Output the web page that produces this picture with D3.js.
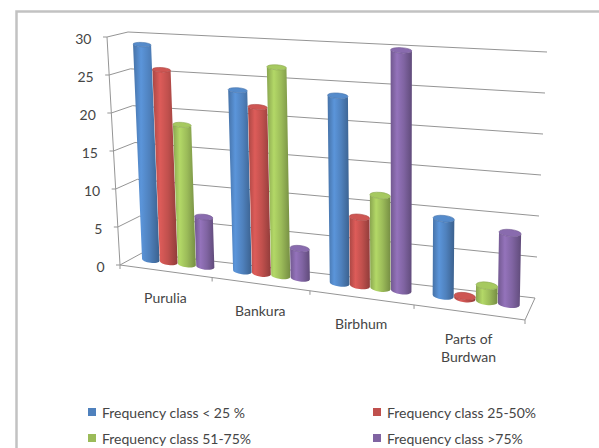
<!DOCTYPE html>
<html>
<head>
<meta charset="utf-8">
<script src="https://cdn.jsdelivr.net/npm/d3@7"></script>
<style>
  body { margin: 0; background: #fff; }
  text { font-family: Lato, "Open Sans", sans-serif; fill: #454545; }
</style>
</head>
<body>
<svg id="chart" width="599" height="448"></svg>
<script>
// ---- data ----
const categories = ["Purulia", "Bankura", "Birbhum", "Parts of Burdwan"];
const seriesNames = ["Frequency class < 25 %", "Frequency class 25-50%", "Frequency class 51-75%", "Frequency class >75%"];
const classBelow25 = [28.7, 23.5, 23.7, 9.5];
const class25to50 = [25.5, 21.5, 8.6, 0.3];
const class51to75 = [18.4, 26.8, 11.6, 1.9];
const classAbove75 = [6.5, 3.8, 29.9, 8.6];
const yTicks = [0, 5, 10, 15, 20, 25, 30];
const seriesColors = ["#4F81BD", "#C0504D", "#9BBB59", "#8064A2"];

const seriesValues = [classBelow25, class25to50, class51to75, classAbove75];

// ---- 3D box (screen corners of the plot cube) ----
const box = {
  front: { bl: [120, 265], br: [525, 320], tl: [107, 37], tr: [537, 66] },
  back:  { bl: [142, 253], br: [535, 298], tl: [128, 32], tr: [547, 52] }
};
const vanish = [400, 6400];          // vertical vanishing point used for the columns
const perspRatio = 1.132;
const uPersp = u => u / (u + perspRatio * (1 - u));
const vScale = d3.scaleLinear().domain([0, 30]).range([0, 1]);
const lerp = (a, b, t) => [a[0] + (b[0] - a[0]) * t, a[1] + (b[1] - a[1]) * t];
const lerp1 = (a, b, t) => a + (b - a) * t;
const dist = (a, b) => Math.hypot(b[0] - a[0], b[1] - a[1]);

// u: along categories (0..1), v: value, w: depth (0 front .. 1 back)
function project(u, v, w) {
  const f = uPersp(u), t = vScale(v);
  const c = k => lerp(box.front[k], box.back[k], w);
  const bot = lerp(c("bl"), c("br"), f);
  const top = lerp(c("tl"), c("tr"), f);
  return lerp(bot, top, t);
}
// point on a column: floor position, then rise toward the vertical vanishing direction
function columnPoint(u, v, w) {
  const f = uPersp(u), t = vScale(v);
  const B = lerp(lerp(box.front.bl, box.back.bl, w), lerp(box.front.br, box.back.br, w), f);
  const hF = lerp1(dist(box.front.bl, box.front.tl), dist(box.front.br, box.front.tr), f);
  const hB = lerp1(dist(box.back.bl, box.back.tl), dist(box.back.br, box.back.tr), f);
  const h = lerp1(hF, hB, w);
  const dx = B[0] - vanish[0], dy = B[1] - vanish[1], len = Math.hypot(dx, dy);
  return [B[0] + dx / len * h * t, B[1] + dy / len * h * t];
}

const x0 = d3.scaleBand().domain(categories).range([0, 1]);
const x1 = d3.scaleBand().domain(d3.range(seriesNames.length))
  .range([0, x0.bandwidth()]).paddingInner(0.02).paddingOuter(0.5);

const svg = d3.select("#chart");

// outer frame
svg.append("rect").attr("x", 16.5).attr("y", 11.5).attr("width", 620).attr("height", 460)
  .attr("fill", "none").attr("stroke", "#c2c2c2").attr("stroke-width", 2.5);

// gradients for cylinder bodies
const defs = svg.append("defs");
seriesColors.forEach((c, i) => {
  const g = defs.append("linearGradient").attr("id", "cyl" + i)
    .attr("x1", 0).attr("x2", 1).attr("y1", 0).attr("y2", 0);
  const base = d3.color(c);
  [[0, base.darker(0.35)], [0.3, base.brighter(0.4)], [0.62, base], [1, base.darker(0.8)]]
    .forEach(([o, col]) => g.append("stop").attr("offset", o).attr("stop-color", col.formatHex()));
});

const gridColor = "#959595";
const line = (a, b) => svg.append("line")
  .attr("x1", a[0]).attr("y1", a[1]).attr("x2", b[0]).attr("y2", b[1])
  .attr("stroke", gridColor).attr("stroke-width", 1);

// walls: gridlines on side wall and back wall
yTicks.forEach(v => {
  line(project(0, v, 0), project(0, v, 1));
  line(project(0, v, 1), project(1, v, 1));
});
// floor edges
line(project(0, 0, 0), project(1, 0, 0));
line(project(1, 0, 0), project(1, 0, 1));
// value axis
line(project(0, 0, 0), project(0, 30, 0));
yTicks.forEach(v => {
  const p = project(0, v, 0);
  line([p[0] - 4, p[1]], p);
  svg.append("text").attr("x", p[0] - 15.5).attr("y", p[1] + 1)
    .attr("text-anchor", "end").attr("dominant-baseline", "central")
    .attr("font-size", 14).text(v);
});
// category axis ticks
d3.range(categories.length + 1).forEach(i => {
  const p = project(i / categories.length, 0, 0);
  line(p, [p[0], p[1] + 4]);
});
// category labels
categories.forEach(c => {
  const p = project(x0(c) + x0.bandwidth() / 2, 0, 0);
  const words = c === "Parts of Burdwan" ? ["Parts of", "Burdwan"] : [c];
  const t = svg.append("text").attr("text-anchor", "middle").attr("font-size", 14);
  words.forEach((wd, k) => t.append("tspan").attr("x", p[0]).attr("y", p[1] + 26 + k * 18)
    .attr("dominant-baseline", "central").text(wd));
});

// cylinders
const depth = 0.6;
function ellipseAt(uc, v, L, R) {
  const dy = project(uc, v, 0)[1] - project(uc, v, 1)[1];
  return {
    cx: (L[0] + R[0]) / 2, cy: (L[1] + R[1]) / 2,
    rx: dist(L, R) / 2,
    ry: 1.6 + 0.1 * dy,
    ang: Math.atan2(R[1] - L[1], R[0] - L[0]) * 180 / Math.PI
  };
}
const bars = [];
categories.forEach((c, ci) => {
  seriesValues.forEach((vals, si) => {
    bars.push({ c, ci, si, v: vals[ci] });
  });
});
const barG = svg.append("g");
bars.forEach(b => {
  const u0 = x0(b.c) + x1(b.si), u1 = u0 + x1.bandwidth(), uc = (u0 + u1) / 2;
  const L0 = columnPoint(u0, 0, depth), R0 = columnPoint(u1, 0, depth);
  const L1 = columnPoint(u0, b.v, depth), R1 = columnPoint(u1, b.v, depth);
  const e0 = ellipseAt(uc, 0, L0, R0), e1 = ellipseAt(uc, b.v, L1, R1);
  const path = `M${L1[0]},${L1[1]} L${L0[0]},${L0[1]} ` +
    `A${e0.rx},${e0.ry} ${e0.ang} 0 0 ${R0[0]},${R0[1]} ` +
    `L${R1[0]},${R1[1]} A${e1.rx},${e1.ry} ${e1.ang} 0 1 ${L1[0]},${L1[1]} Z`;
  barG.append("path").attr("d", path).attr("fill", `url(#cyl${b.si})`);
  const base = d3.color(seriesColors[b.si]);
  barG.append("ellipse")
    .attr("transform", `translate(${e1.cx},${e1.cy}) rotate(${e1.ang})`)
    .attr("rx", e1.rx).attr("ry", e1.ry)
    .attr("fill", base.brighter(0.2).formatHex())
    .attr("stroke", base.darker(0.3).formatHex()).attr("stroke-width", 0.6);
});

// legend
const legendPos = [[88, 412], [373, 412], [88, 438], [373, 438]];
seriesNames.forEach((n, i) => {
  const [lx, ly] = legendPos[i];
  svg.append("rect").attr("x", lx).attr("y", ly - 4).attr("width", 8).attr("height", 8)
    .attr("fill", seriesColors[i]);
  svg.append("text").attr("x", lx + 14).attr("y", ly).attr("dominant-baseline", "central")
    .attr("font-size", 14).text(n);
});
</script>
</body>
</html>
